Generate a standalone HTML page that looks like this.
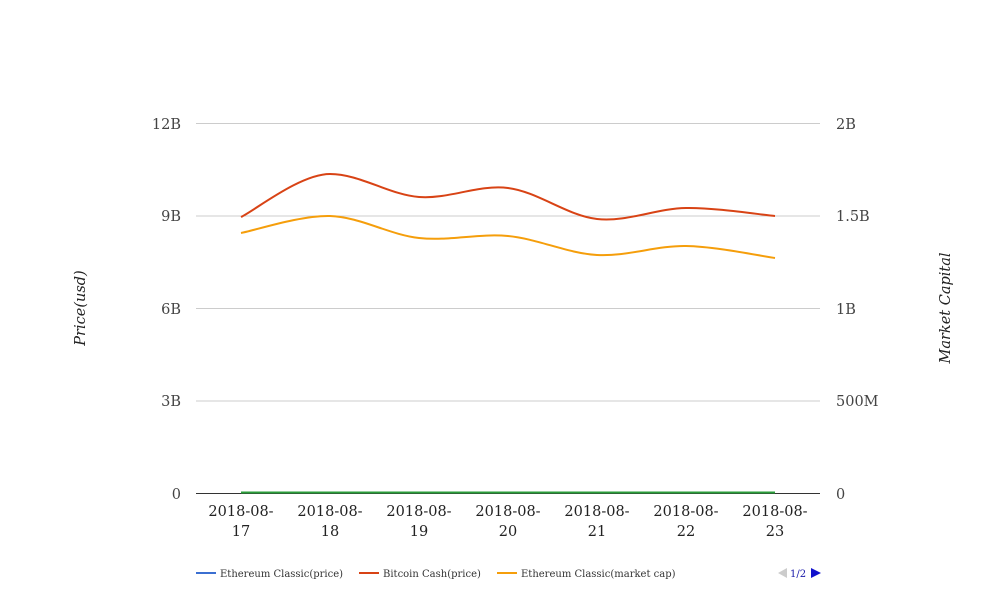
<!DOCTYPE html>
<html><head><meta charset="utf-8"><style>body{margin:0;background:#fff}svg{display:block}</style></head>
<body>
<svg width="1008" height="616" xmlns="http://www.w3.org/2000/svg" font-family="'DejaVu Serif', serif">
<rect width="1008" height="616" fill="#fff"/>
<g stroke="#cccccc" stroke-width="1">
<line x1="196" y1="123.5" x2="820" y2="123.5"/>
<line x1="196" y1="216" x2="820" y2="216"/>
<line x1="196" y1="308.5" x2="820" y2="308.5"/>
<line x1="196" y1="401" x2="820" y2="401"/>
</g>
<line x1="196" y1="493.5" x2="820" y2="493.5" stroke="#333" stroke-width="1"/>
<g font-size="14.5" fill="#444" text-anchor="end">
<text x="181" y="129">12B</text><text x="181" y="221">9B</text><text x="181" y="314">6B</text><text x="181" y="406">3B</text><text x="181" y="499">0</text>
</g>
<g font-size="14.5" fill="#444" text-anchor="start">
<text x="836" y="129">2B</text><text x="836" y="221">1.5B</text><text x="836" y="314">1B</text><text x="836" y="406">500M</text><text x="836" y="499">0</text>
</g>
<text transform="translate(85,308) rotate(-90)" font-size="14.5" font-style="italic" fill="#222" text-anchor="middle">Price(usd)</text>
<text transform="translate(950,308) rotate(-90)" font-size="14.5" font-style="italic" fill="#222" text-anchor="middle">Market Capital</text>
<g font-size="14.5" fill="#222" text-anchor="middle">
<text x="241" y="516">2018-08-</text><text x="241" y="536">17</text>
<text x="330" y="516">2018-08-</text><text x="330" y="536">18</text>
<text x="419" y="516">2018-08-</text><text x="419" y="536">19</text>
<text x="508" y="516">2018-08-</text><text x="508" y="536">20</text>
<text x="597" y="516">2018-08-</text><text x="597" y="536">21</text>
<text x="686" y="516">2018-08-</text><text x="686" y="536">22</text>
<text x="775" y="516">2018-08-</text><text x="775" y="536">23</text>
</g>
<line x1="241" y1="492.5" x2="775" y2="492.5" stroke="#2a9d3a" stroke-width="2"/>
<path d="M241,217 C255.8,209.8 300.3,174 330,174 C359.7,174 389.3,194.7 419,197 C448.7,199.3 478.3,184.3 508,188 C537.7,191.7 567.3,215.7 597,219 C626.7,222.3 656.3,208.5 686,208 C715.7,207.5 760.2,214.7 775,216" fill="none" stroke="#d84315" stroke-width="2"/>
<path d="M241,233 C255.8,230.2 300.3,215.2 330,216 C359.7,216.8 389.3,234.7 419,238 C448.7,241.3 478.3,233.2 508,236 C537.7,238.8 567.3,253.3 597,255 C626.7,256.7 656.3,245.5 686,246 C715.7,246.5 760.2,256 775,258" fill="none" stroke="#f59e0b" stroke-width="2"/>
<g font-size="10" fill="#333">
<line x1="196" y1="573" x2="216" y2="573" stroke="#3b6fd1" stroke-width="2"/><text x="220" y="577">Ethereum Classic(price)</text>
<line x1="359" y1="573" x2="379" y2="573" stroke="#d84315" stroke-width="2"/><text x="383" y="577">Bitcoin Cash(price)</text>
<line x1="497" y1="573" x2="517" y2="573" stroke="#f59e0b" stroke-width="2"/><text x="521" y="577">Ethereum Classic(market cap)</text>
<polygon points="778,573 787,568 787,578" fill="#ccc"/>
<text x="790" y="577" fill="#1a1aaa">1/2</text>
<polygon points="811,568 821,573 811,578" fill="#1111cc"/>
</g>
</svg>
</body></html>
